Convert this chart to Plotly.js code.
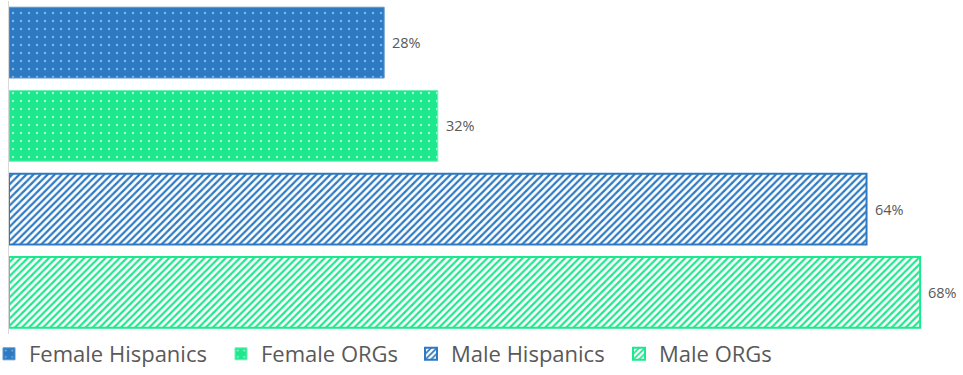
<!DOCTYPE html>
<html><head><meta charset="utf-8">
<script src="https://cdn.plot.ly/plotly-3.0.1.min.js"></script>
<style>html,body{margin:0;padding:0;background:#fff}#c{width:963px;height:375px}</style>
</head><body><div id="c"></div>
<script>
const categories = ["Female Hispanics", "Female ORGs", "Male Hispanics", "Male ORGs"];
const values = [28, 32, 64, 68];
const labels = ["28%", "32%", "64%", "68%"];

const blue = "#2E7AC2", green = "#1EE88E";
const styles = [
  {color: blue, pattern: {shape: ".", bgcolor: blue, fgcolor: "#7fb8ea", size: 8, solidity: 0.07, fillmode: "replace"}, line: {color: "#5a95cc", width: 1}},
  {color: green, pattern: {shape: ".", bgcolor: green, fgcolor: "#a6f8d2", size: 8, solidity: 0.07, fillmode: "replace"}, line: {color: "#6cf0b4", width: 1}},
  {color: blue, pattern: {shape: "/", bgcolor: "#ffffff", fgcolor: blue, size: 5, solidity: 0.45, fillmode: "replace"}, line: {color: blue, width: 2}},
  {color: green, pattern: {shape: "/", bgcolor: "#ffffff", fgcolor: green, size: 5, solidity: 0.45, fillmode: "replace"}, line: {color: green, width: 2}}
];
const legendNames = ["legend", "legend2", "legend3", "legend4"];
const legendX = [-11, 221, 411, 619];

const traces = categories.map((c, i) => ({
  type: "bar", orientation: "h", name: c,
  y: [c], x: [values[i]],
  legend: legendNames[i],
  marker: {color: styles[i].color, pattern: styles[i].pattern, line: styles[i].line},
  hoverinfo: "skip"
}));

const annotations = categories.map((c, i) => ({
  x: values[i], y: c, xref: "x", yref: "y", text: labels[i], showarrow: false,
  xanchor: "left", yanchor: "middle", xshift: 6,
  font: {family: "Open Sans, sans-serif", size: 14.5, color: "#595959"}
}));

const layout = {
  width: 963, height: 375,
  margin: {l: 0, r: 0, t: 0, b: 0, autoexpand: false},
  barmode: "overlay", bargap: 0.15,
  paper_bgcolor: "#fff", plot_bgcolor: "#fff",
  font: {family: "Open Sans, sans-serif", color: "#595959"},
  xaxis: {domain: [9/963, 1], range: [0, 71.2], showgrid: false, zeroline: false, showticklabels: false, ticks: "", automargin: false},
  yaxis: {domain: [41/375, 1 - 1/375], type: "category", categoryarray: categories, autorange: "reversed", showticklabels: false, ticks: "",
          showline: true, linecolor: "#d9d9d9", linewidth: 1, showgrid: false, zeroline: false, automargin: false},
  annotations: annotations,
  showlegend: true
};
legendNames.forEach((ln, i) => {
  layout[ln] = {orientation: "h", x: legendX[i] / 963, xanchor: "left", y: 0, yanchor: "bottom",
                font: {size: 22, color: "#595959"}, itemwidth: 30, bgcolor: "rgba(0,0,0,0)"};
});
Plotly.newPlot("c", traces, layout, {displayModeBar: false, staticPlot: true});
</script></body></html>
